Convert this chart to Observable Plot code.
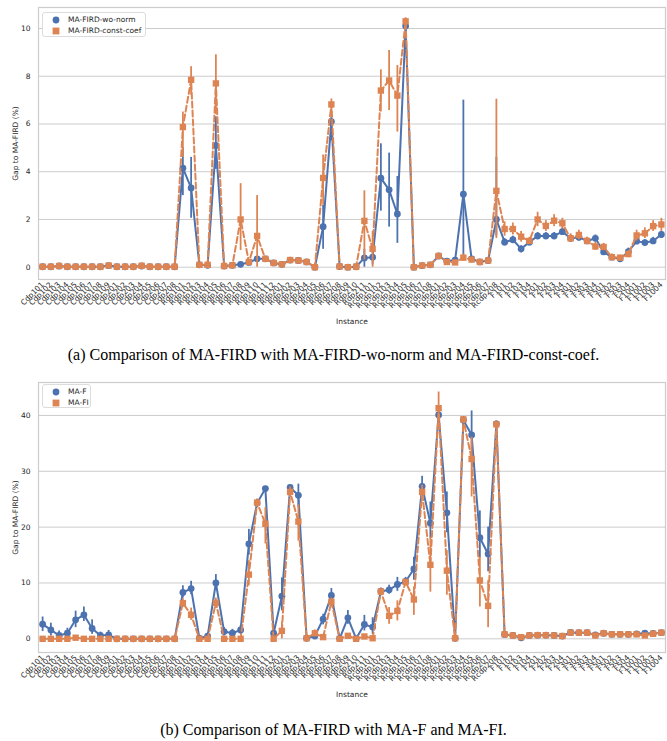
<!DOCTYPE html>
<html><head><meta charset="utf-8">
<script src="https://cdn.jsdelivr.net/npm/d3@7"></script>
<script src="https://cdn.jsdelivr.net/npm/@observablehq/plot@0.6"></script>
<style>
html,body{margin:0;background:#fff;overflow:hidden;}
#wrap{position:relative;width:667px;height:741px;}
.cap{position:absolute;left:0;width:667px;font-family:"Liberation Serif","Times New Roman",serif;font-size:16px;text-align:center;color:#000;white-space:nowrap;}
.legend{position:absolute;background:#fff;border:1px solid #dcdcdc;border-radius:3px;font-family:"DejaVu Sans";font-size:7.5px;color:#262626;box-sizing:border-box;}
.legend .row{position:absolute;left:0;white-space:nowrap;}
.legend svg{position:absolute;}
.chart{position:absolute;left:0;}
svg{display:block;max-width:none !important;}
</style></head><body><div id="wrap"></div>
<script>
const BLUE = "#4C72B0", ORANGE = "#DD8452";

const instances = [
  "Cdp101","Cdp102","Cdp103","Cdp104","Cdp105","Cdp106","Cdp107","Cdp108","Cdp109",
  "Cdp201","Cdp202","Cdp203","Cdp204","Cdp205","Cdp206","Cdp207","Cdp208",
  "Rdp101","Rdp102","Rdp103","Rdp104","Rdp105","Rdp106","Rdp107","Rdp108","Rdp109","Rdp110","Rdp111","Rdp112",
  "Rdp201","Rdp202","Rdp203","Rdp204","Rdp205","Rdp206","Rdp207","Rdp208","Rdp209","Rdp210","Rdp211",
  "Rcdp101","Rcdp102","Rcdp103","Rcdp104","Rcdp105","Rcdp106","Rcdp107","Rcdp108",
  "Rcdp201","Rcdp202","Rcdp203","Rcdp204","Rcdp205","Rcdp206","Rcdp207","Rcdp208",
  "F101","F102","F103","F104","F201","F202","F203","F204","F301","F302","F303","F304",
  "F501","F502","F503","F504","F1001","F1002","F1003","F1004"
];

// (a) MA-FIRD-wo-norm
const woNorm = [0.02,0.02,0.05,0.02,0.02,0.02,0.02,0.02,0.07,0.02,0.02,0.02,0.05,0.02,0.02,0.02,0.02,
  4.15,3.32,0.1,0.08,5.1,0.05,0.08,0.12,0.2,0.35,0.35,0.18,
  0.12,0.3,0.28,0.22,0.0,1.7,6.1,0.03,0.0,0.02,0.39,
  0.42,3.73,3.24,2.23,10.1,0.0,0.07,0.1,
  0.47,0.25,0.3,3.06,0.35,0.22,0.28,2.0,
  1.05,1.15,0.77,1.05,1.31,1.31,1.31,1.49,1.21,1.25,1.1,1.21,0.64,0.42,0.35,0.65,1.09,1.03,1.1,1.37];
const woNormLo = [null,null,null,null,null,null,null,null,null,null,null,null,null,null,null,null,null,
  3.0,2.05,null,null,4.1,null,null,null,null,null,null,null,
  null,null,null,null,null,0.75,5.3,null,null,null,0.0,
  0.1,2.35,1.68,1.0,9.9,null,null,null,
  null,null,null,0.3,null,null,null,1.3,
  0.9,1.0,0.6,0.9,1.15,1.15,1.15,1.35,1.05,1.1,0.95,1.05,0.5,0.3,0.25,0.5,0.95,0.9,0.95,1.2];
const woNormHi = [null,null,null,null,null,null,null,null,null,null,null,null,null,null,null,null,null,
  5.0,4.6,null,null,6.3,null,null,null,null,null,null,null,
  null,null,null,null,null,2.6,6.5,null,null,null,0.75,
  0.75,5.17,4.78,3.8,10.4,null,null,null,
  null,null,null,7.0,null,null,null,4.6,
  1.2,1.3,0.9,1.2,1.45,1.45,1.45,1.65,1.35,1.4,1.25,1.35,0.75,0.5,0.45,0.8,1.25,1.15,1.25,1.5];

// (a) MA-FIRD-const-coef
const constCoef = [0.02,0.02,0.05,0.02,0.02,0.02,0.02,0.02,0.07,0.02,0.02,0.02,0.06,0.02,0.02,0.02,0.02,
  5.87,7.85,0.1,0.1,7.7,0.05,0.08,2.0,0.22,1.31,0.35,0.18,
  0.12,0.3,0.28,0.22,0.0,3.74,6.82,0.03,0.0,0.02,1.94,
  0.77,7.4,7.82,7.19,10.3,0.0,0.07,0.1,
  0.47,0.22,0.2,0.4,0.32,0.22,0.28,3.2,
  1.6,1.6,1.28,1.1,2.0,1.73,1.95,1.84,1.21,1.35,1.1,0.87,0.85,0.42,0.4,0.55,1.33,1.42,1.72,1.79];
const constCoefLo = [null,null,null,null,null,null,null,null,null,null,null,null,null,null,null,null,null,
  4.6,7.2,null,null,6.4,null,null,0.7,null,0.0,null,null,
  null,null,null,null,null,2.6,6.5,null,null,null,0.3,
  0.0,6.5,6.56,5.66,10.1,null,null,null,
  null,null,null,0.25,null,null,null,1.2,
  1.3,1.35,1.05,0.95,1.7,1.5,1.7,1.6,1.05,1.15,0.95,0.7,0.7,0.3,0.3,0.4,1.1,1.2,1.5,1.5];
const constCoefHi = [null,null,null,null,null,null,null,null,null,null,null,null,null,null,null,null,null,
  6.5,8.4,null,null,8.9,null,null,3.5,null,3.0,null,null,
  null,null,null,null,null,4.7,7.05,null,null,null,3.2,
  1.5,8.27,9.08,8.45,10.45,null,null,null,
  null,null,null,0.55,null,null,null,7.04,
  1.9,1.85,1.5,1.25,2.3,1.95,2.2,2.05,1.4,1.55,1.25,1.05,1.0,0.55,0.5,0.7,1.55,1.65,1.95,2.05];

// (b) MA-F
const maF = [2.63,1.6,0.6,1.0,3.4,4.3,1.85,0.6,0.7,0.0,0.0,0.0,0.0,0.0,0.0,0.0,0.0,
  8.3,9.0,0.1,0.5,10.0,1.3,1.0,1.6,17.0,24.3,26.9,1.0,
  7.64,27.1,25.7,0.1,0.5,3.52,7.76,0.05,3.76,0.05,2.57,
  2.1,8.48,8.78,9.73,10.27,12.5,27.3,20.7,
  40.1,22.57,0.1,39.2,36.5,18.1,15.2,38.5,
  0.78,0.6,0.18,0.6,0.65,0.65,0.6,0.5,1.13,1.1,1.1,0.7,1.0,0.8,0.8,0.8,0.9,1.0,0.95,1.1];
const maFLo = [1.3,0.5,0.0,0.1,2.0,3.1,0.8,0.0,0.0,null,null,null,null,null,null,null,null,
  7.3,7.9,null,0.0,8.8,0.5,0.3,0.8,15.0,23.5,26.3,0.0,
  5.0,26.5,23.5,null,0.0,2.5,6.8,null,2.6,null,1.4,
  0.8,7.9,8.0,8.5,9.5,10.5,25.5,18.0,
  39.0,19.0,null,38.5,32.0,14.5,12.0,37.5,
  null,null,null,null,null,null,null,null,null,null,null,null,null,null,null,null,null,null,null,null];
const maFHi = [3.9,2.8,1.4,1.9,4.95,5.7,3.4,1.2,1.5,null,null,null,null,null,null,null,null,
  9.5,10.3,null,1.0,11.5,2.0,1.7,2.4,19.6,25.0,27.3,2.0,
  10.9,27.6,27.7,null,1.0,4.4,9.0,null,5.07,null,4.2,
  3.76,9.1,9.6,11.0,11.0,14.6,29.1,24.5,
  41.0,26.3,null,39.8,40.8,22.9,20.0,39.0,
  null,null,null,null,null,null,null,null,null,null,null,null,null,null,null,null,null,null,null,null];

// (b) MA-FI
const maFI = [0.0,0.0,0.0,0.0,0.2,0.0,0.0,0.0,0.0,0.0,0.0,0.0,0.0,0.0,0.0,0.0,0.0,
  6.39,4.3,0.0,0.0,6.45,0.0,0.0,0.0,11.5,24.4,20.6,0.0,
  1.43,26.3,21.0,0.1,1.0,0.3,6.63,0.0,0.54,0.0,0.42,
  0.1,8.48,4.12,5.0,10.2,7.04,26.3,13.25,
  41.3,12.2,0.1,39.3,32.2,10.45,5.9,38.4,
  0.8,0.6,0.3,0.6,0.65,0.65,0.6,0.5,1.1,1.1,1.1,0.6,1.0,0.8,0.8,0.8,0.8,0.6,0.9,1.1];
const maFILo = [null,null,null,null,null,null,null,null,null,null,null,null,null,null,null,null,null,
  5.6,3.3,null,null,5.5,null,null,null,9.5,23.8,17.0,null,
  0.0,25.5,17.5,null,0.4,null,5.8,null,null,null,null,
  null,null,2.6,3.2,null,4.2,25.0,8.36,
  38.5,7.8,null,null,25.4,5.7,2.0,37.8,
  null,null,null,null,null,null,null,null,null,null,null,null,null,null,null,null,null,null,null,null];
const maFIHi = [null,null,null,null,null,null,null,null,null,null,null,null,null,null,null,null,null,
  7.2,5.5,null,null,7.3,null,null,null,14.0,25.0,23.5,null,
  3.0,27.2,24.0,null,1.6,null,7.3,null,null,null,null,
  null,null,5.6,6.8,null,9.3,27.5,18.2,
  44.2,15.8,null,null,36.1,14.6,10.4,39.0,
  null,null,null,null,null,null,null,null,null,null,null,null,null,null,null,null,null,null,null,null];

const topTicks = [0, 2, 4, 6, 8, 10];
const botTicks = [0, 10, 20, 30, 40];
const topSeries = ["MA-FIRD-wo-norm", "MA-FIRD-const-coef"];
const botSeries = ["MA-F", "MA-FI"];
const yLabel = "Gap to MA-FIRD (%)";
const xLabel = "Instance";
const capA = "(a) Comparison of MA-FIRD with MA-FIRD-wo-norm and MA-FIRD-const-coef.";
const capB = "(b) Comparison of MA-FIRD with MA-F and MA-FI.";

function rows(vals, lo, hi) {
  return instances.map((name, i) => ({name, v: vals[i], lo: lo[i], hi: hi[i]}));
}

function chart({blue, orange, yDomain, yTicks, height, marginTop, marginBottom}) {
  const hasErr = d => d.lo != null && d.hi != null;
  return Plot.plot({
    width: 667, height, marginTop, marginBottom, marginLeft: 38, marginRight: 2,
    style: {fontFamily: "DejaVu Sans", fontSize: "7.5px", color: "#262626", background: "#fff", overflow: "visible"},
    x: {type: "point", domain: instances, padding: 0.5, round: false},
    y: {domain: yDomain},
    marks: [
      Plot.gridY(yTicks, {stroke: "#cccccc", strokeOpacity: 1, strokeWidth: 1}),
      Plot.frame({stroke: "#cccccc", strokeWidth: 1.2}),
      Plot.axisY(yTicks, {tickSize: 0, tickPadding: 8, label: yLabel, labelAnchor: "center", labelOffset: 26, labelArrow: "none"}),
      Plot.axisX({tickSize: 0, tickRotate: -45, tickPadding: 4, label: xLabel, labelAnchor: "center", labelOffset: 44, labelArrow: "none"}),
      Plot.ruleX(blue.filter(hasErr), {x: "name", y1: "lo", y2: "hi", stroke: BLUE, strokeWidth: 1.8}),
      Plot.line(blue, {x: "name", y: "v", stroke: BLUE, strokeWidth: 2}),
      Plot.dot(blue, {x: "name", y: "v", fill: BLUE, stroke: "none", r: 3.4, symbol: "circle"}),
      Plot.ruleX(orange.filter(hasErr), {x: "name", y1: "lo", y2: "hi", stroke: ORANGE, strokeWidth: 1.8}),
      Plot.line(orange, {x: "name", y: "v", stroke: ORANGE, strokeWidth: 2, strokeDasharray: "6,3"}),
      Plot.dot(orange, {x: "name", y: "v", fill: ORANGE, stroke: "none", r: 3.6, symbol: "square"})
    ]
  });
}

function legend(names, left, top, width, height) {
  const div = document.createElement("div");
  div.className = "legend";
  Object.assign(div.style, {left: left + "px", top: top + "px", width: width + "px", height: height + "px"});
  names.forEach((n, i) => {
    const y = 6.5 + i * 11.5;
    const s = document.createElementNS("http://www.w3.org/2000/svg", "svg");
    s.setAttribute("width", 10); s.setAttribute("height", 10);
    s.style.left = "8px"; s.style.top = (y - 5) + "px";
    s.innerHTML = i === 0
      ? `<circle cx="5" cy="5" r="3.4" fill="${BLUE}"/>`
      : `<rect x="1.6" y="1.6" width="6.8" height="6.8" fill="${ORANGE}"/>`;
    div.appendChild(s);
    const t = document.createElement("div");
    t.className = "row";
    t.textContent = n;
    Object.assign(t.style, {left: "25px", top: (y - 5) + "px", lineHeight: "10px"});
    div.appendChild(t);
  });
  return div;
}

function caption(text, centerY) {
  const d = document.createElement("div");
  d.className = "cap";
  Object.assign(d.style, {top: (centerY - 10) + "px", height: "20px", lineHeight: "20px"});
  d.textContent = text;
  return d;
}

const wrap = document.getElementById("wrap");

const c1 = chart({
  blue: rows(woNorm, woNormLo, woNormHi),
  orange: rows(constCoef, constCoefLo, constCoefHi),
  yDomain: [-0.515, 10.88], yTicks: topTicks, height: 331, marginTop: 7, marginBottom: 52
});
c1.classList.add("chart"); c1.style.top = "0px";
wrap.appendChild(c1);
wrap.appendChild(legend(topSeries, 42, 12, 104, 25));
wrap.appendChild(caption(capA, 355));

const c2 = chart({
  blue: rows(maF, maFLo, maFHi),
  orange: rows(maFI, maFILo, maFIHi),
  yDomain: [-2.45, 45.9], yTicks: botTicks, height: 328, marginTop: 6, marginBottom: 52
});
c2.classList.add("chart"); c2.style.top = "376px";
wrap.appendChild(c2);
wrap.appendChild(legend(botSeries, 42, 384, 49, 24));
wrap.appendChild(caption(capB, 730));
</script>
</body></html>
